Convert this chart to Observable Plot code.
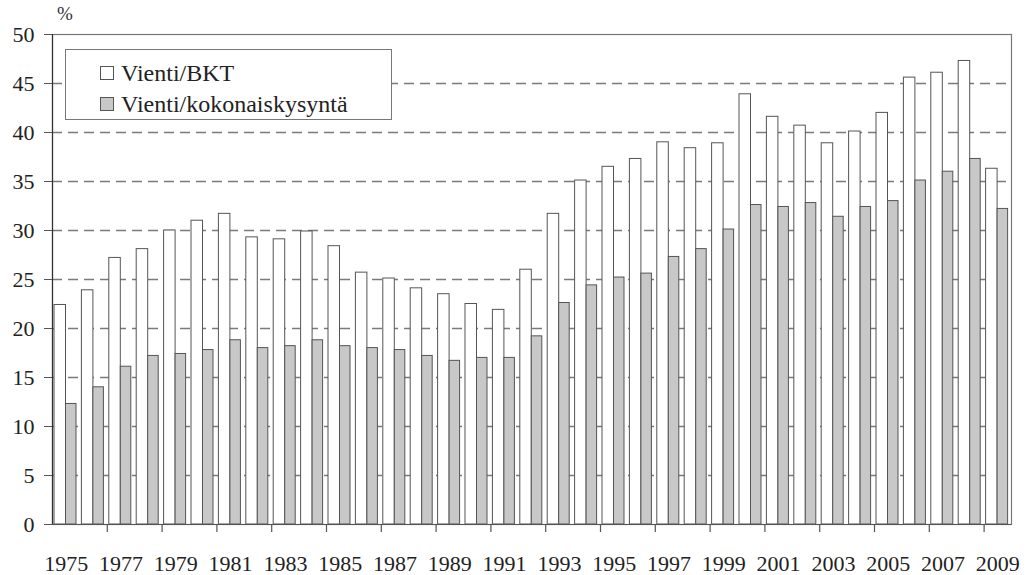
<!DOCTYPE html>
<html>
<head>
<meta charset="utf-8">
<script src="https://cdn.jsdelivr.net/npm/d3@7"></script>
<script src="https://cdn.jsdelivr.net/npm/@observablehq/plot@0.6"></script>
<style>
  html, body { margin: 0; padding: 0; background: #fff; }
  #wrap { position: relative; width: 1028px; height: 575px; font-family: "Liberation Serif", "DejaVu Serif", serif; }
  #wrap svg { position: absolute; left: 0; top: 0; }
  .pct { position: absolute; left: 57px; top: 3px; font-size: 19px; color: #333; }
  .legend { position: absolute; left: 65px; top: 49px; width: 327px; height: 71px; border: 1px solid #777; background: #fff; box-sizing: border-box; }
  .item { position: absolute; left: 34px; font-size: 24px; color: #222; line-height: 1; }
  .item .sw { display: inline-block; width: 12px; height: 12px; border: 1px solid #555; margin-right: 7px; vertical-align: 1px; }
</style>
</head>
<body>
<div id="wrap"></div>
<script>
const years = d3.range(1975, 2010);
const vientiBKT = [22.4, 23.9, 27.2, 28.1, 30.0, 31.0, 31.7, 29.3, 29.1, 29.9,
  28.4, 25.7, 25.1, 24.1, 23.5, 22.5, 21.9, 26.0, 31.7, 35.1,
  36.5, 37.3, 39.0, 38.4, 38.9, 43.9, 41.6, 40.7, 38.9, 40.1,
  42.0, 45.6, 46.1, 47.3, 36.3];
const vientiKok = [12.3, 14.0, 16.1, 17.2, 17.4, 17.8, 18.8, 18.0, 18.2, 18.8,
  18.2, 18.0, 17.8, 17.2, 16.7, 17.0, 17.0, 19.2, 22.6, 24.4,
  25.2, 25.6, 27.3, 28.1, 30.1, 32.6, 32.4, 32.8, 31.4, 32.4,
  33.0, 35.1, 36.0, 37.3, 32.2];
const seriesNames = ["Vienti/BKT", "Vienti/kokonaiskysyntä"];
const seriesColors = ["#ffffff", "#c8c8c8"];
const yTicks = d3.range(0, 51, 5);
const gridTicks = d3.range(5, 50, 5);
const labelYears = years.filter((y, i) => i % 2 === 0);
const boundaryTicks = years.filter((y, i) => i % 2 === 0 && i > 0).map(y => y - 0.5);

const W = 1028, H = 575, mL = 52, mR = 17, mT = 34, mB = 51;
const bw = (W - mL - mR) / years.length;
const plotH = H - mT - mB;
const FONT = "'Liberation Serif', 'DejaVu Serif', serif";

const rows = years.map((y, i) => ({year: y, x1: y - 0.5, x2: y + 0.5, a: vientiBKT[i], b: vientiKok[i]}));

const plot = Plot.plot({
  width: W, height: H,
  marginLeft: mL, marginRight: mR, marginTop: mT, marginBottom: mB,
  style: {fontFamily: FONT, fontSize: "22px", color: "#222", background: "transparent", overflow: "visible"},
  x: {domain: [years[0] - 0.5, years[years.length - 1] + 0.5], label: null},
  y: {domain: [0, 50], label: null},
  marks: [
    Plot.ruleY(gridTicks, {stroke: "#7a7a7a", strokeWidth: 1.5, strokeDasharray: "10,6"}),
    Plot.rectY(rows, {x1: "x1", x2: "x2", y1: 0, y2: "a", fill: seriesColors[0], stroke: "#555", strokeWidth: 1, insetLeft: 2, insetRight: bw - 13.5}),
    Plot.rectY(rows, {x1: "x1", x2: "x2", y1: 0, y2: "b", fill: seriesColors[1], stroke: "#555", strokeWidth: 1, insetLeft: 13.5, insetRight: 3.4}),
    Plot.frame({stroke: "#777", strokeWidth: 1.2}),
    Plot.ruleX([years[0] - 0.5], {stroke: "#333", strokeWidth: 1.2}),
    Plot.ruleY([0], {stroke: "#555", strokeWidth: 1.2}),
    Plot.ruleX(boundaryTicks, {x: d => d, stroke: "#555", strokeWidth: 1.2, insetTop: plotH, insetBottom: -8}),
    Plot.axisY({ticks: yTicks, tickSize: 8, tickPadding: 10, fontSize: 22, stroke: "#555", label: null}),
    Plot.axisX({ticks: labelYears, tickSize: 0, tickPadding: 31, fontSize: 22, tickFormat: d => String(d), label: null})
  ]
});

const wrap = document.getElementById("wrap");
wrap.appendChild(plot);

const pct = document.createElement("div");
pct.className = "pct";
pct.textContent = "%";
wrap.appendChild(pct);

const legend = document.createElement("div");
legend.className = "legend";
seriesNames.forEach((name, i) => {
  const it = document.createElement("div");
  it.className = "item";
  it.style.top = (i === 0 ? 11 : 42) + "px";
  const sw = document.createElement("span");
  sw.className = "sw";
  sw.style.background = seriesColors[i];
  it.appendChild(sw);
  it.appendChild(document.createTextNode(name));
  legend.appendChild(it);
});
wrap.appendChild(legend);
</script>
</body>
</html>
